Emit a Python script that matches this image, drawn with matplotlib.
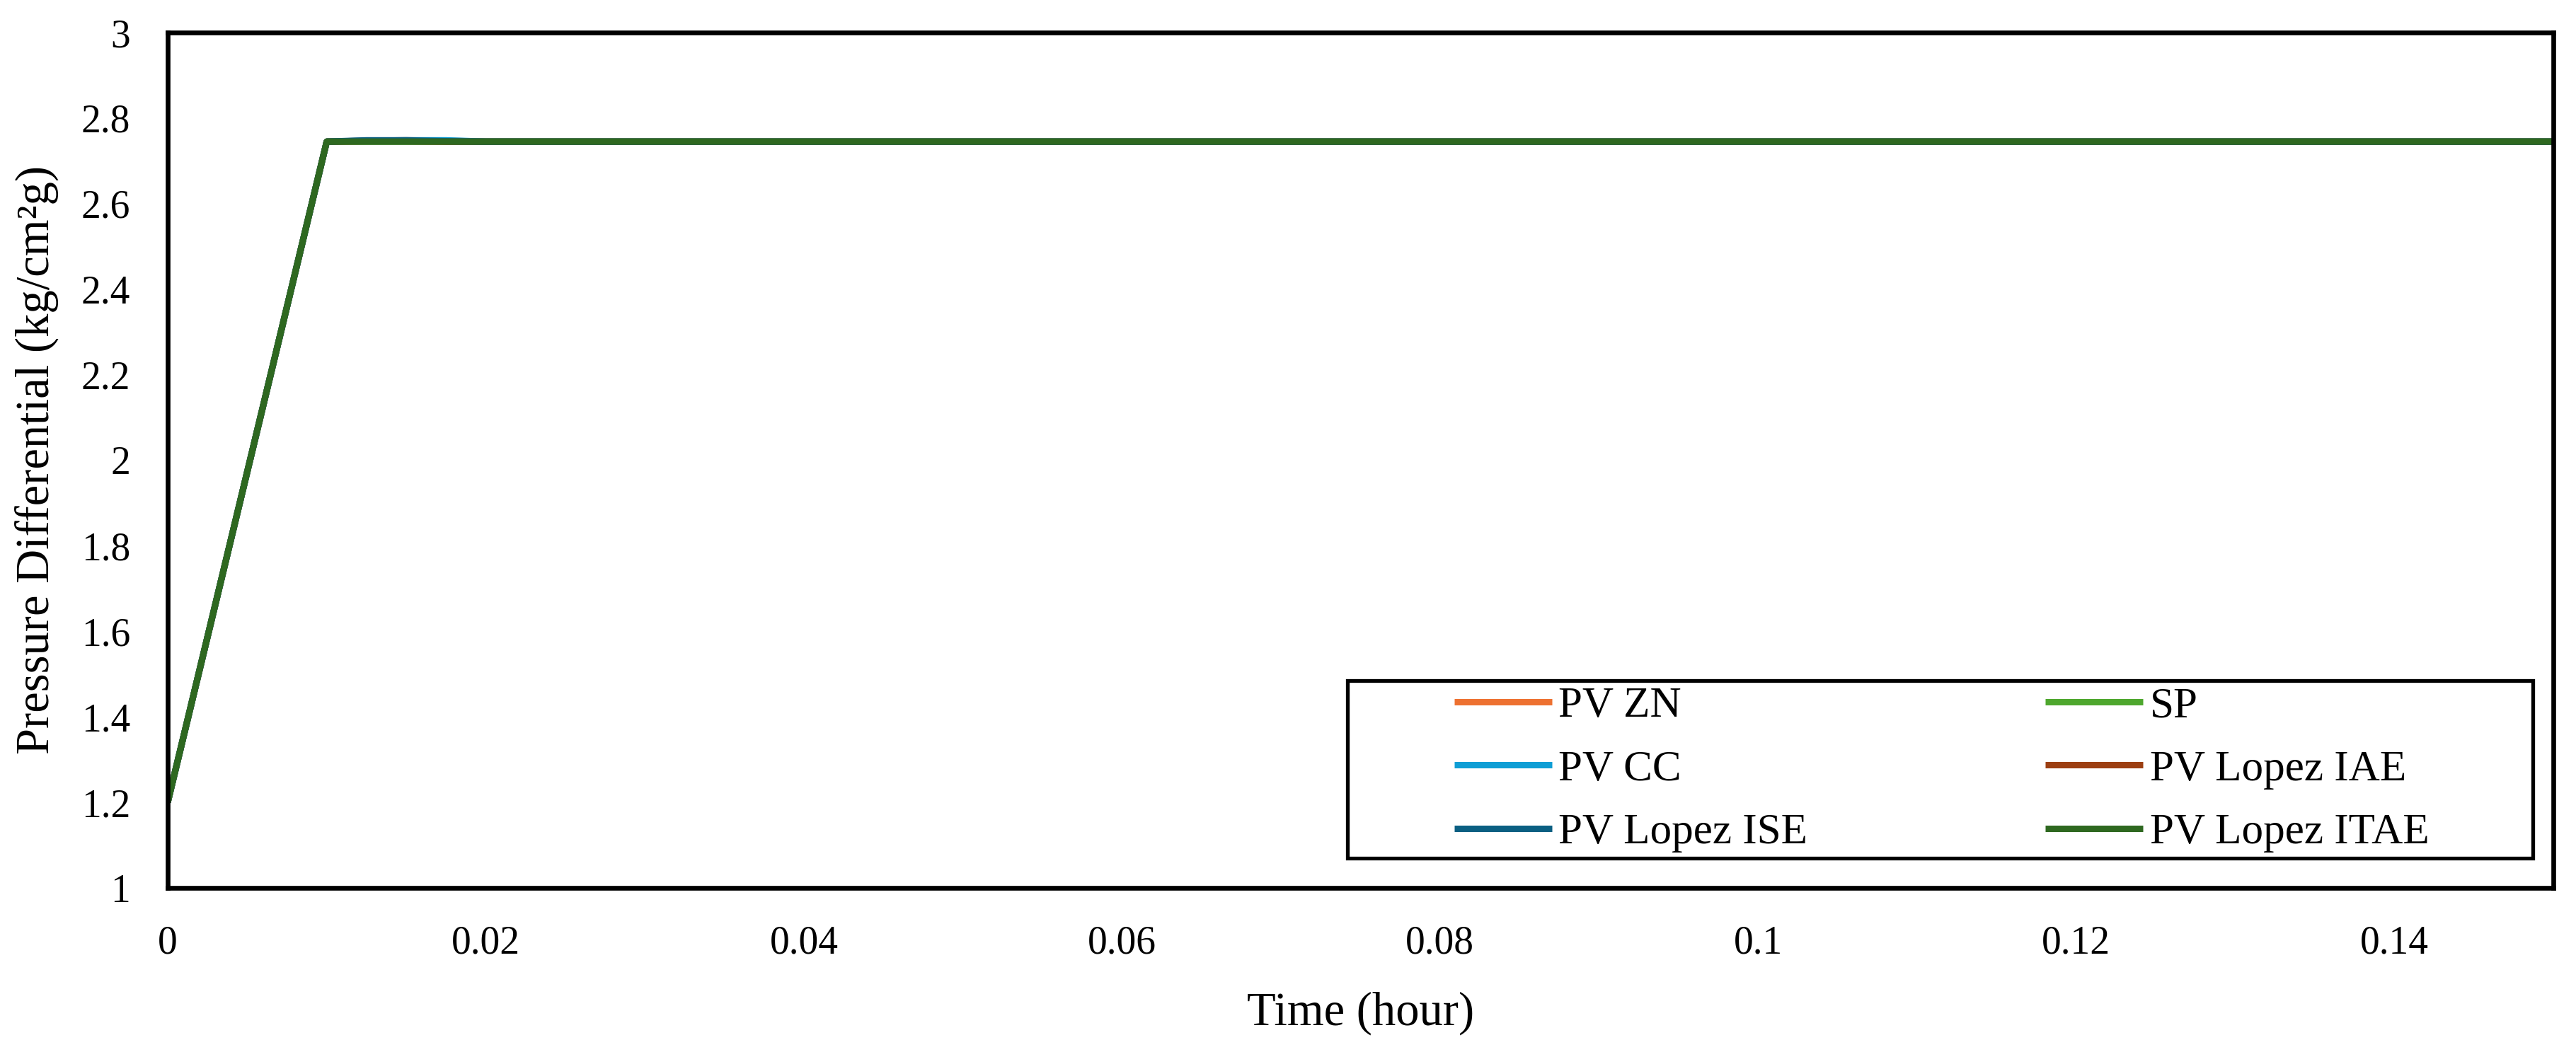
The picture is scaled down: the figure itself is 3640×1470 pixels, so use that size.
import matplotlib
matplotlib.use("Agg")
import matplotlib.pyplot as plt
from matplotlib.patches import Rectangle
from matplotlib.ticker import FuncFormatter, MultipleLocator

plt.rcParams['font.family'] = ['Liberation Serif', 'DejaVu Serif']

# Datos
time_h = [0, 0.010, 0.0125, 0.015, 0.0175, 0.020, 0.15]
pv_zn = [1.2, 2.745, 2.747, 2.748, 2.747, 2.745, 2.745]
sp = [1.2, 2.745, 2.745, 2.745, 2.745, 2.745, 2.745]
pv_cc = [1.2, 2.745, 2.747, 2.748, 2.748, 2.745, 2.745]
pv_iae = [1.2, 2.745, 2.746, 2.746, 2.745, 2.745, 2.745]
pv_ise = [1.2, 2.745, 2.748, 2.748, 2.746, 2.745, 2.745]
pv_itae = [1.2, 2.745, 2.745, 2.745, 2.745, 2.745, 2.745]

series = [
    ("PV ZN", pv_zn, "#ED7131"),
    ("SP", sp, "#4EA72E"),
    ("PV CC", pv_cc, "#0F9ED5"),
    ("PV Lopez IAE", pv_iae, "#9C3F12"),
    ("PV Lopez ISE", pv_ise, "#0B5F82"),
    ("PV Lopez ITAE", pv_itae, "#2E6820"),
]

fig = plt.figure(figsize=(36.4, 14.7), dpi=100)
ax = fig.add_axes([0.0651, 0.1463, 0.9261, 0.8224])

lines = {}
for name, vals, col in series:
    ln, = ax.plot(time_h, vals, color=col, lw=6.5, label=name, solid_capstyle='butt')
    lines[name] = ln

ax.set_xlim(0, 0.15)
ax.set_ylim(1, 3)
ax.xaxis.set_major_locator(MultipleLocator(0.02))
ax.yaxis.set_major_locator(MultipleLocator(0.2))
fmt = FuncFormatter(lambda v, p: ('%.2f' % v).rstrip('0').rstrip('.'))
ax.xaxis.set_major_formatter(fmt)
ax.yaxis.set_major_formatter(fmt)
ax.tick_params(axis='both', length=0, labelsize=40)
ax.tick_params(axis='x', pad=38)
ax.tick_params(axis='y', pad=38)
for s in ax.spines.values():
    s.set_linewidth(4.8)

ax.set_xlabel("Time (hour)", fontsize=48, labelpad=30)
ax.set_ylabel("Pressure Differential (kg/cm²g)", fontsize=48, labelpad=23)

# leyenda (orden por filas como en Excel)
order = ["PV ZN", "PV CC", "PV Lopez ISE", "SP", "PV Lopez IAE", "PV Lopez ITAE"]
ax.legend([lines[n] for n in order], order, ncol=2, frameon=False,
          loc='center left', bbox_to_anchor=(0.5393, 0.1381),
          borderpad=0, borderaxespad=0, fontsize=44, handlelength=2.26,
          handletextpad=0.15, columnspacing=5.5, labelspacing=0.55)
ax.add_patch(Rectangle((0.4945, 0.0347), 0.4969, 0.2076, transform=ax.transAxes,
                       fill=False, edgecolor='black', lw=3.8, zorder=6, clip_on=False))

fig.savefig("out.png", dpi=100)
